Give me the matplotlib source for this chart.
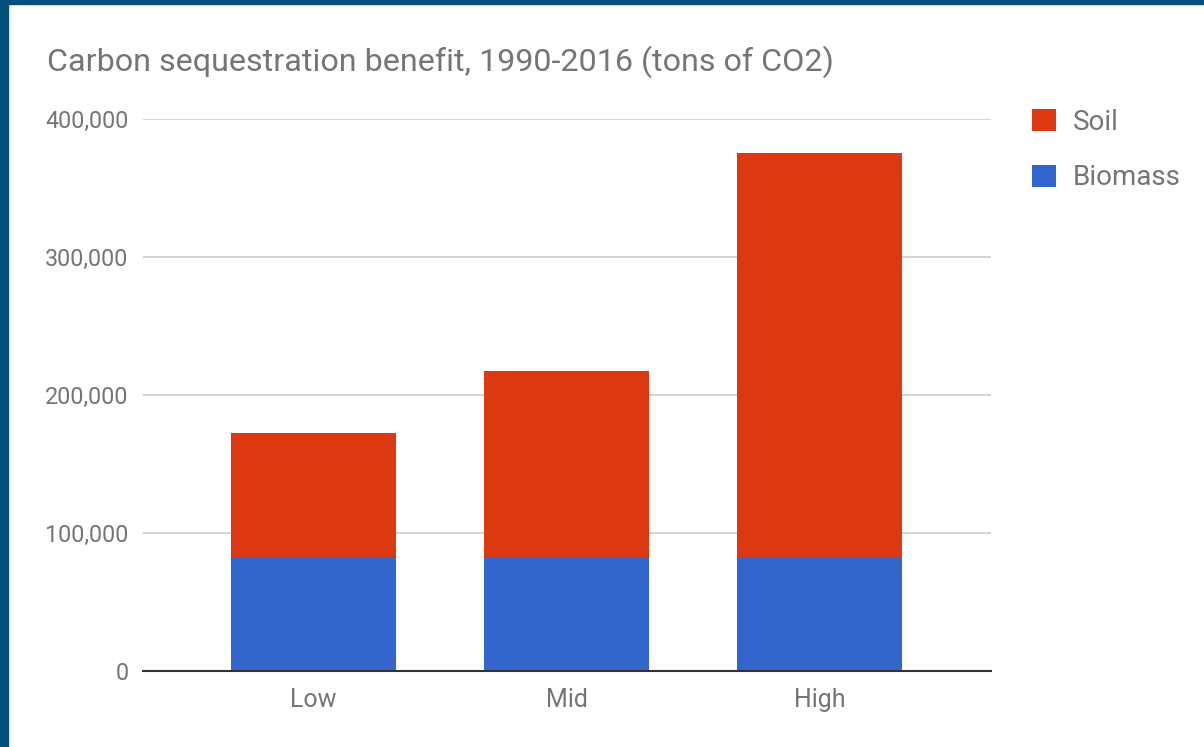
import matplotlib
matplotlib.use("Agg")
import matplotlib.pyplot as plt
from matplotlib.patches import Rectangle

categories = ["Low", "Mid", "High"]
biomass = [82500, 82500, 82500]
soil = [90000, 135000, 293000]
yticks = [0, 100000, 200000, 300000, 400000]
title = "Carbon sequestration benefit, 1990-2016 (tons of CO2)"

W, H, DPI = 1204, 747, 100
plt.rcParams["font.family"] = ["Roboto", "DejaVu Sans"]
fig = plt.figure(figsize=(W / DPI, H / DPI), dpi=DPI)
fig.patch.set_facecolor("white")

# Frame along the top and left edges
border = "#03507d"
fig.add_artist(Rectangle((0, 1 - 4 / H), 1, 4 / H, transform=fig.transFigure,
                         color=border, zorder=10))
fig.add_artist(Rectangle((0, 0), 8 / W, 1, transform=fig.transFigure,
                         color=border, zorder=10))

ax = fig.add_axes([143 / W, (H - 671) / H, (991 - 143) / W, (671 - 119) / H])
x = list(range(len(categories)))
width = 0.652
ax.bar(x, biomass, width=width, color="#3366cc", label="Biomass", zorder=3)
ax.bar(x, soil, width=width, bottom=biomass, color="#dc3912", label="Soil", zorder=3)

ax.set_xlim(-0.674, 2.678)
ax.set_ylim(0, 400000)
ax.set_yticks(yticks)
ax.set_yticklabels([f"{v:,}" for v in yticks])
ax.set_xticks(x)
ax.set_xticklabels(categories)
ax.tick_params(axis="y", length=0, labelsize=16.8, colors="#757575", pad=10.5)
ax.tick_params(axis="x", length=0, labelsize=18, colors="#757575", pad=12.5)

ax.grid(axis="y", color="#cccccc", linewidth=1.2, zorder=0)
for s in ["top", "right", "left"]:
    ax.spines[s].set_visible(False)
ax.spines["bottom"].set_color("#333333")
ax.spines["bottom"].set_linewidth(1.5)
ax.spines["bottom"].set_zorder(4)

fig.text(47 / W, 1 - 62 / H, title, fontsize=23.2, color="#757575", va="center", ha="left")

handles, labels = ax.get_legend_handles_labels()
leg = fig.legend(handles[::-1], labels[::-1], loc="upper left",
                 bbox_to_anchor=(1032 / W, 1 - 109 / H), frameon=False,
                 borderpad=0, borderaxespad=0,
                 fontsize=20, handlelength=0.85, handleheight=0.85,
                 handletextpad=0.62, labelspacing=1.02, labelcolor="#757575")

fig.savefig("out.png", dpi=DPI, facecolor="white")
